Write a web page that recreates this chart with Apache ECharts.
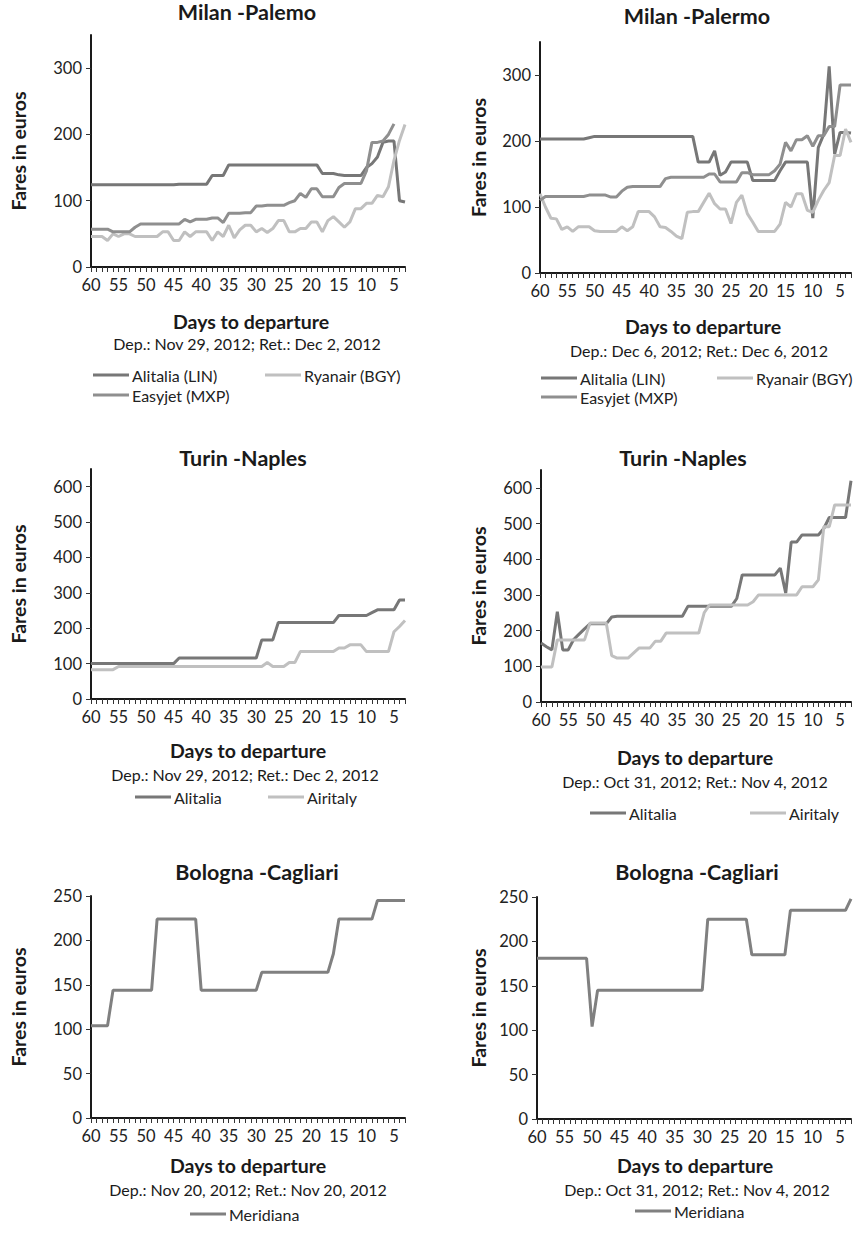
<!DOCTYPE html>
<html><head><meta charset="utf-8">
<script src="https://cdn.jsdelivr.net/npm/echarts@6/dist/echarts.min.js"></script>
<style>html,body{margin:0;padding:0;background:#fff}#c{width:854px;height:1239px}</style>
</head><body><div id="c"></div>
<script>
// ---------- DATA ----------
const days = ['60','59','58','57','56','55','54','53','52','51','50','49','48','47','46','45','44','43','42','41','40','39','38','37','36','35','34','33','32','31','30','29','28','27','26','25','24','23','22','21','20','19','18','17','16','15','14','13','12','11','10','9','8','7','6','5','4','3'];
const xTickLabels = ['60','55','50','45','40','35','30','25','20','15','10','5'];
const yTicksMilan = [0, 100, 200, 300];
const yTicksTurin = [0, 100, 200, 300, 400, 500, 600];
const yTicksBologna = [0, 50, 100, 150, 200, 250];

// Milan - Palermo, Dep. Nov 29 2012
const milanNovAlitalia = [124,124,124,124,124,124,124,124,124,124,124,124,124,124,124,124,125,125,125,125,125,125,138,138,138,154,154,154,154,154,154,154,154,154,154,154,154,154,154,154,154,154,141,141,141,139,138,138,138,138,150,156,166,188,190,190,100,98];
const milanNovRyanair = [46,46,46,40,50,46,50,50,46,46,46,46,46,53,53,40,40,53,46,53,53,53,40,53,46,63,44,56,63,63,53,58,52,58,70,70,53,53,58,58,68,68,53,70,76,68,60,68,88,88,96,96,108,106,121,161,191,215];
const milanNovEasyjet = [57,57,57,57,53,53,53,53,60,65,65,65,65,65,65,65,65,72,68,72,72,72,74,74,67,81,81,81,82,82,92,92,93,93,93,93,97,100,111,105,118,118,106,106,106,120,126,126,126,126,145,188,188,190,200,216,null,null];

// Milan - Palermo, Dep. Dec 6 2012
const milanDecAlitalia = [203,203,203,203,203,203,203,203,203,205,207,207,207,207,207,207,207,207,207,207,207,207,207,207,207,207,207,207,207,168,168,168,185,148,153,168,168,168,168,140,140,140,140,140,155,168,168,168,168,168,83,190,210,313,180,213,213,212];
const milanDecRyanair = [120,100,83,82,66,70,63,70,70,70,64,63,63,63,63,70,64,70,93,93,93,85,70,69,63,56,52,92,93,93,107,121,105,97,97,75,107,118,90,77,63,63,63,63,74,107,100,120,120,95,92,110,125,137,178,178,218,198];
const milanDecEasyjet = [110,116,116,116,116,116,116,116,116,118,118,118,118,115,115,124,130,131,131,131,131,131,131,143,145,145,145,145,145,145,145,150,150,138,138,138,138,152,152,149,149,149,149,155,165,198,185,202,202,208,192,208,208,222,222,285,285,285];

// Turin - Naples, Dep. Nov 29 2012
const turinNovAlitalia = [100,100,100,100,100,100,100,100,100,100,100,100,100,100,100,100,116,116,116,116,116,116,116,116,116,116,116,116,116,116,116,167,167,167,216,216,216,216,216,216,216,216,216,216,216,236,236,236,236,236,236,244,252,252,252,252,280,280];
const turinNovAiritaly = [83,83,83,83,83,92,92,92,92,92,92,92,92,92,92,92,92,92,92,92,92,92,92,92,92,92,92,92,92,92,92,92,103,92,92,92,103,103,134,134,134,134,134,134,134,144,144,153,153,153,134,134,134,134,134,190,205,222];

// Turin - Naples, Dep. Oct 31 2012
const turinOctAlitalia = [165,155,146,253,146,146,175,190,205,219,219,219,219,238,240,240,240,240,240,240,240,240,240,240,240,240,240,268,268,268,268,268,268,268,268,268,290,356,356,356,356,356,356,356,375,305,448,448,468,468,468,468,486,517,517,517,517,620];
const turinOctAiritaly = [98,98,98,174,174,174,174,174,174,221,221,221,221,130,123,123,123,137,151,151,151,170,170,193,193,193,193,193,193,193,250,272,272,272,272,272,272,272,272,281,300,300,300,300,300,300,300,300,323,323,323,342,491,491,552,552,552,552];

// Bologna - Cagliari
const bolognaNovMeridiana = [104,104,104,104,144,144,144,144,144,144,144,144,224,224,224,224,224,224,224,224,144,144,144,144,144,144,144,144,144,144,144,164,164,164,164,164,164,164,164,164,164,164,164,164,185,224,224,224,224,224,224,224,245,245,245,245,245,245];
const bolognaOctMeridiana = [181,181,181,181,181,181,181,181,181,181,104,145,145,145,145,145,145,145,145,145,145,145,145,145,145,145,145,145,145,145,145,225,225,225,225,225,225,225,225,185,185,185,185,185,185,185,235,235,235,235,235,235,235,235,235,235,235,248];

// ---------- STYLE / LAYOUT ----------
const C_ALI = '#777777', C_RYA = '#c0c0c0', C_EASY = '#8f8f8f', C_MER = '#808080';
const FONT = 'Lato, "Open Sans", sans-serif';

const panels = [
  { grid:{left:91, top:35, width:314, height:232}, max:350, step:100, ticks:yTicksMilan,
    title:'Milan -Palemo', tx:247, ty:12, nx:18, days:[251,321], sub:[247,343,'Dep.: Nov 29, 2012; Ret.: Dec 2, 2012'],
    series:[['Alitalia (LIN)', milanNovAlitalia, C_ALI], ['Ryanair (BGY)', milanNovRyanair, C_RYA], ['Easyjet (MXP)', milanNovEasyjet, C_EASY]],
    legend:[[93,377,'Alitalia (LIN)'],[265,377,'Ryanair (BGY)'],[93,397,'Easyjet (MXP)']] },
  { grid:{left:540, top:42, width:311, height:231}, max:350, step:100, ticks:yTicksMilan,
    title:'Milan -Palermo', tx:697, ty:16, nx:478, days:[703,326], sub:[699,350,'Dep.: Dec 6, 2012; Ret.: Dec 6, 2012'],
    series:[['Alitalia (LIN)', milanDecAlitalia, C_ALI], ['Ryanair (BGY)', milanDecRyanair, C_RYA], ['Easyjet (MXP)', milanDecEasyjet, C_EASY]],
    legend:[[541,380,'Alitalia (LIN)'],[717,380,'Ryanair (BGY)'],[541,399,'Easyjet (MXP)']] },
  { grid:{left:91, top:469, width:314, height:230}, max:650, step:100, ticks:yTicksTurin,
    title:'Turin -Naples', tx:243, ty:458, nx:18, days:[248,750], sub:[245,774,'Dep.: Nov 29, 2012; Ret.: Dec 2, 2012'],
    series:[['Alitalia', turinNovAlitalia, C_ALI], ['Airitaly', turinNovAiritaly, C_RYA]],
    legend:[[135,799,'Alitalia'],[268,799,'Airitaly']] },
  { grid:{left:541, top:470, width:310, height:232}, max:650, step:100, ticks:yTicksTurin,
    title:'Turin -Naples', tx:683, ty:458, nx:478, days:[695,757], sub:[695,781,'Dep.: Oct 31, 2012; Ret.: Nov 4, 2012'],
    series:[['Alitalia', turinOctAlitalia, C_ALI], ['Airitaly', turinOctAiritaly, C_RYA]],
    legend:[[590,815,'Alitalia'],[750,815,'Airitaly']] },
  { grid:{left:91, top:896, width:314, height:222}, max:250, step:50, ticks:yTicksBologna,
    title:'Bologna -Cagliari', tx:257, ty:872, nx:18, days:[248,1165], sub:[248,1189,'Dep.: Nov 20, 2012; Ret.: Nov 20, 2012'],
    series:[['Meridiana', bolognaNovMeridiana, C_MER]],
    legend:[[190,1216,'Meridiana']] },
  { grid:{left:537, top:897, width:314, height:222}, max:250, step:50, ticks:yTicksBologna,
    title:'Bologna -Cagliari', tx:697, ty:872, nx:478, days:[695,1165], sub:[697,1189,'Dep.: Oct 31, 2012; Ret.: Nov 4, 2012'],
    series:[['Meridiana', bolognaOctMeridiana, C_MER]],
    legend:[[635,1213,'Meridiana']] }
];

const option = {
  animation:false, backgroundColor:'#fff',
  grid:[], xAxis:[], yAxis:[], series:[], legend:[], graphic:[]
};

panels.forEach((p, i) => {
  option.grid.push(Object.assign({containLabel:false}, p.grid));
  option.xAxis.push({
    type:'category', gridIndex:i, data:days, boundaryGap:false,
    axisLine:{lineStyle:{color:'#1a1a1a', width:2}},
    axisTick:{show:true, interval:0, length:5, lineStyle:{color:'#333', width:1}},
    axisLabel:{interval:(idx, val) => xTickLabels.includes(val), fontSize:16.5, color:'#222', margin:9, fontFamily:FONT},
    splitLine:{show:false}
  });
  option.yAxis.push({
    type:'value', gridIndex:i, min:0, max:p.max, interval:p.step,
    axisLine:{show:true, lineStyle:{color:'#1a1a1a', width:2}},
    axisTick:{show:true, length:5, customValues:p.ticks, lineStyle:{color:'#333', width:1}},
    axisLabel:{customValues:p.ticks, fontSize:16.5, color:'#222', margin:9, fontFamily:FONT},
    splitLine:{show:false}
  });
  p.series.forEach(s => {
    option.series.push({
      type:'line', name:s[0], xAxisIndex:i, yAxisIndex:i, data:s[1],
      symbol:'none', showSymbol:false, connectNulls:false,
      color:s[2], lineStyle:{color:s[2], width:3}, z:2
    });
  });
  p.legend.forEach(l => {
    option.legend.push({
      data:[l[2]], left:l[0], top:l[1]-10, padding:0, icon:'rect', itemWidth:36, itemHeight:3,
      itemGap:0, selectedMode:false,
      textStyle:{fontSize:16, color:'#222', fontFamily:FONT, padding:[0,0,0,-2]}
    });
  });
  const cy = p.grid.top + p.grid.height/2;
  option.graphic.push(
    {type:'text', x:p.tx, y:p.ty, style:{text:p.title, font:'bold 21.5px ' + FONT, fill:'#1a1a1a', textAlign:'center', textVerticalAlign:'middle'}},
    {type:'text', x:p.nx, y:cy, rotation:Math.PI/2, style:{text:'Fares in euros', font:'bold 19.5px ' + FONT, fill:'#1a1a1a', textAlign:'center', textVerticalAlign:'middle'}},
    {type:'text', x:p.days[0], y:p.days[1], style:{text:'Days to departure', font:'bold 19.5px ' + FONT, fill:'#1a1a1a', textAlign:'center', textVerticalAlign:'middle'}},
    {type:'text', x:p.sub[0], y:p.sub[1], style:{text:p.sub[2], font:'16px ' + FONT, fill:'#1a1a1a', textAlign:'center', textVerticalAlign:'middle'}}
  );
});

const chart = echarts.init(document.getElementById('c'), null, {renderer:'svg'});
chart.setOption(option);
</script>
</body></html>
